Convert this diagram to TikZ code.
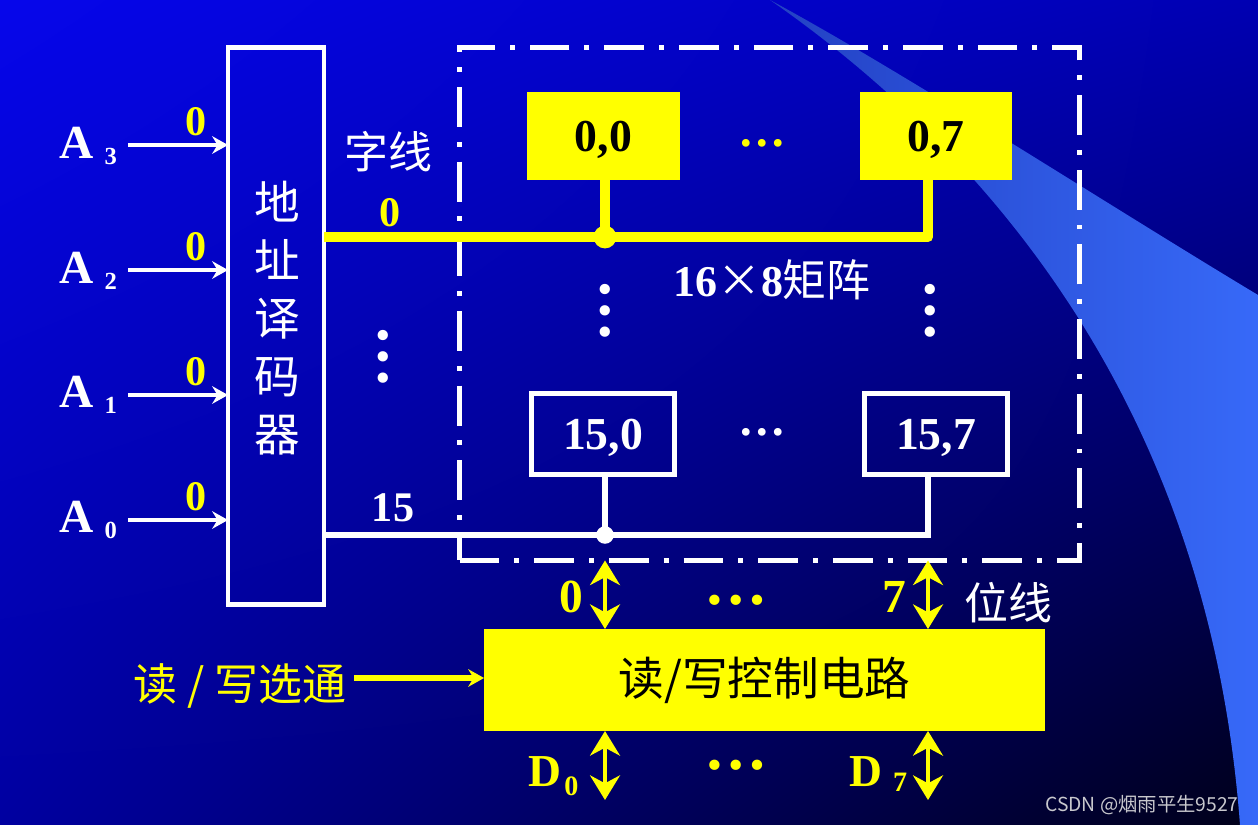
\documentclass[tikz,border=0pt]{standalone}
\usepackage{fontspec}
\setmainfont{Liberation Serif}
\newfontfamily\cjk{Noto Sans CJK SC}
\usetikzlibrary{arrows.meta,positioning,shadings}

\definecolor{bgul}{RGB}{6,6,235}
\definecolor{bgur}{RGB}{0,0,178}
\definecolor{bgll}{RGB}{0,0,160}
\definecolor{bglr}{RGB}{0,0,25}
\definecolor{swleft}{RGB}{35,65,195}
\definecolor{swright}{RGB}{55,105,248}
\definecolor{wmark}{RGB}{200,200,205}
\definecolor{ylw}{RGB}{255,255,0}

\begin{document}
\begin{tikzpicture}[x=0.02cm,y=-0.02cm,
  every node/.style={inner sep=0pt,outer sep=0pt},
  addr/.style={white,font=\bfseries\fontsize{27}{27}\selectfont},
  idx/.style={font=\bfseries\fontsize{14}{14}\selectfont},
  bitval/.style={ylw,font=\bfseries\fontsize{24}{24}\selectfont},
  hz/.style={font=\cjk\fontsize{25}{25}\selectfont},
  ycell/.style={fill=ylw,text=black,font=\bfseries\fontsize{26}{26}\selectfont,
    text depth=0pt,minimum width=3.06cm,minimum height=1.76cm},
  wcell/.style={draw=white,line width=2.8pt,text=white,font=\bfseries\fontsize{26}{26}\selectfont,
    text depth=0pt,minimum width=2.86cm,minimum height=1.62cm},
  smalldots/.style={font=\bfseries\fontsize{27}{27}\selectfont},
  bigdots/.style={font=\bfseries\fontsize{36}{36}\selectfont},
  inarr/.style={white,line width=2.6pt,-{Stealth[length=9pt,width=10pt,inset=3pt]}},
  selarr/.style={ylw,line width=3.2pt,-{Stealth[length=9pt,width=10pt,inset=3pt]}},
  bidir/.style={ylw,line width=2.8pt,
    {Stealth[length=14pt,width=17pt,inset=4.5pt]}-{Stealth[length=14pt,width=17pt,inset=4.5pt]}},
  ywire/.style={ylw,line width=5.8pt,line join=round},
  wwire/.style={white,line width=3pt},
  framebox/.style={draw=white,line width=2.8pt,
    dash pattern=on 22.7pt off 8.5pt on 2.8pt off 8.5pt,
    minimum width=12.4cm,minimum height=10.26cm}]

  \useasboundingbox (0,0) rectangle (1258,825);
  \shade[upper left=bgul,upper right=bgur,lower left=bgll,lower right=bglr]
    (0,0) rectangle (1258,825);
  \shade[left color=swleft,right color=swright]
    (770,0) .. controls (900,70) and (1100,200) .. (1258,295)
    -- (1258,825) -- (1240,825)
    .. controls (1210,420) and (1000,160) .. (770,0) -- cycle;

  \node[draw=white,line width=2.8pt,minimum width=1.92cm,minimum height=11.16cm] (addr_dec) at (276,326) {};
  \node[hz,white,font=\cjk\fontsize{26}{33}\selectfont,align=center] (dec_text) at (277,318) {地\\址\\译\\码\\器};

  \node[addr] (a3) at (77,143) {A};
  \node[addr] (a2) at (77,268) {A};
  \node[addr] (a1) at (77,392) {A};
  \node[addr] (a0) at (77,517) {A};
  \node[idx,white,below right=-6.2pt and 6pt of a3] (a3_idx) {3};
  \node[idx,white,below right=-6.2pt and 6pt of a2] (a2_idx) {2};
  \node[idx,white,below right=-6.2pt and 6pt of a1] (a1_idx) {1};
  \node[idx,white,below right=-6.2pt and 6pt of a0] (a0_idx) {0};

  \coordinate (in3) at (128,145);
  \coordinate (in2) at (128,270);
  \coordinate (in1) at (128,395);
  \coordinate (in0) at (128,520);
  \draw[inarr] (in3) -- (in3 -| addr_dec.west);
  \draw[inarr] (in2) -- (in2 -| addr_dec.west);
  \draw[inarr] (in1) -- (in1 -| addr_dec.west);
  \draw[inarr] (in0) -- (in0 -| addr_dec.west);
  \node[bitval] (v3) at (196,122) {0};
  \node[bitval] (v2) at (196,247) {0};
  \node[bitval] (v1) at (196,372) {0};
  \node[bitval] (v0) at (196,497) {0};

  \node[framebox] (cell_array) at (769.5,304) {};

  \node[ycell] (cell_00) at (603.5,136) {0,0};
  \node[ycell] (cell_07) at (936,136) {0,7};
  \node[wcell] (cell_150) at (603,434) {15,0};
  \node[wcell] (cell_157) at (936,434) {15,7};

  \coordinate (join0) at (605,237);
  \coordinate (turn0) at (928,237);
  \draw[ywire] (addr_dec.east |- join0) -- (turn0) -- (turn0 |- cell_07.south);
  \draw[ywire] (cell_00.south -| join0) -- (join0);
  \fill[ylw] (join0) circle (6.5pt);

  \coordinate (join15) at (605,535);
  \coordinate (turn15) at (928,535);
  \draw[wwire] (addr_dec.east |- join15) -- (turn15) -- (turn15 |- cell_157.south);
  \draw[wwire] (cell_150.south -| join15) -- (join15);
  \fill[white] (join15) circle (5pt);

  \node[hz,white] (word_line) at (388,152) {字线};
  \node[bitval] (wl_0) at (390,213) {0};
  \node[white,font=\bfseries\fontsize{24}{24}\selectfont] (wl_15) at (393,508) {15};
  \node[white,font=\fontsize{25}{25}\selectfont] (array_size) at (772,280)
    {{\bfseries 16}{\cjk ×}{\bfseries 8}{\cjk 矩阵}};

  \node[smalldots,ylw] (row0_dots) at (762,143) {…};
  \node[smalldots,white] (row15_dots) at (762,432) {…};
  \node[bigdots,white,rotate=90] (col0_dots) at (605,311) {…};
  \node[bigdots,white,rotate=90] (col7_dots) at (930,311) {…};
  \node[bigdots,white,rotate=90] (word_dots) at (383,357) {…};

  \node[fill=ylw,text=black,minimum width=11.22cm,minimum height=2.04cm,
    font=\cjk\fontsize{26}{26}\selectfont] (rw_ctrl) at (764.5,680) {读/写控制电路};

  \draw[bidir] (cell_array.south -| join0) -- (rw_ctrl.north -| join0);
  \draw[bidir] (cell_array.south -| turn0) -- (rw_ctrl.north -| turn0);
  \node[bitval,font=\bfseries\fontsize{27}{27}\selectfont] (bl_0) at (571,597) {0};
  \node[bitval,font=\bfseries\fontsize{27}{27}\selectfont] (bl_7) at (894,597) {7};
  \node[bigdots,ylw] (bl_dots) at (736,600) {…};
  \node[hz,white] (bit_line) at (1008,603) {位线};

  \node[hz,ylw] (rw_sel) at (240,686) {读 / 写选通};
  \coordinate (sel_in) at (354,678);
  \draw[selarr] (sel_in) -- (sel_in -| rw_ctrl.west);

  \coordinate (data_out) at (0,800);
  \draw[bidir] (rw_ctrl.south -| join0) -- (data_out -| join0);
  \draw[bidir] (rw_ctrl.south -| turn0) -- (data_out -| turn0);
  \node[bitval,font=\bfseries\fontsize{26}{26}\selectfont] (d0) at (545,772) {D};
  \node[bitval,font=\bfseries\fontsize{16}{16}\selectfont,below right=-5.7pt and 1.7pt of d0] (d0_idx) {0};
  \node[bitval,font=\bfseries\fontsize{26}{26}\selectfont] (d7) at (866,772) {D};
  \node[bitval,font=\bfseries\fontsize{16}{16}\selectfont,below right=-8pt and 6pt of d7] (d7_idx) {7};
  \node[bigdots,ylw] (data_dots) at (736,765) {…};

  \node[wmark,font=\cjk\fontsize{11}{11}\selectfont] (csdn) at (1142,805) {CSDN @烟雨平生9527};
\end{tikzpicture}
\end{document}
